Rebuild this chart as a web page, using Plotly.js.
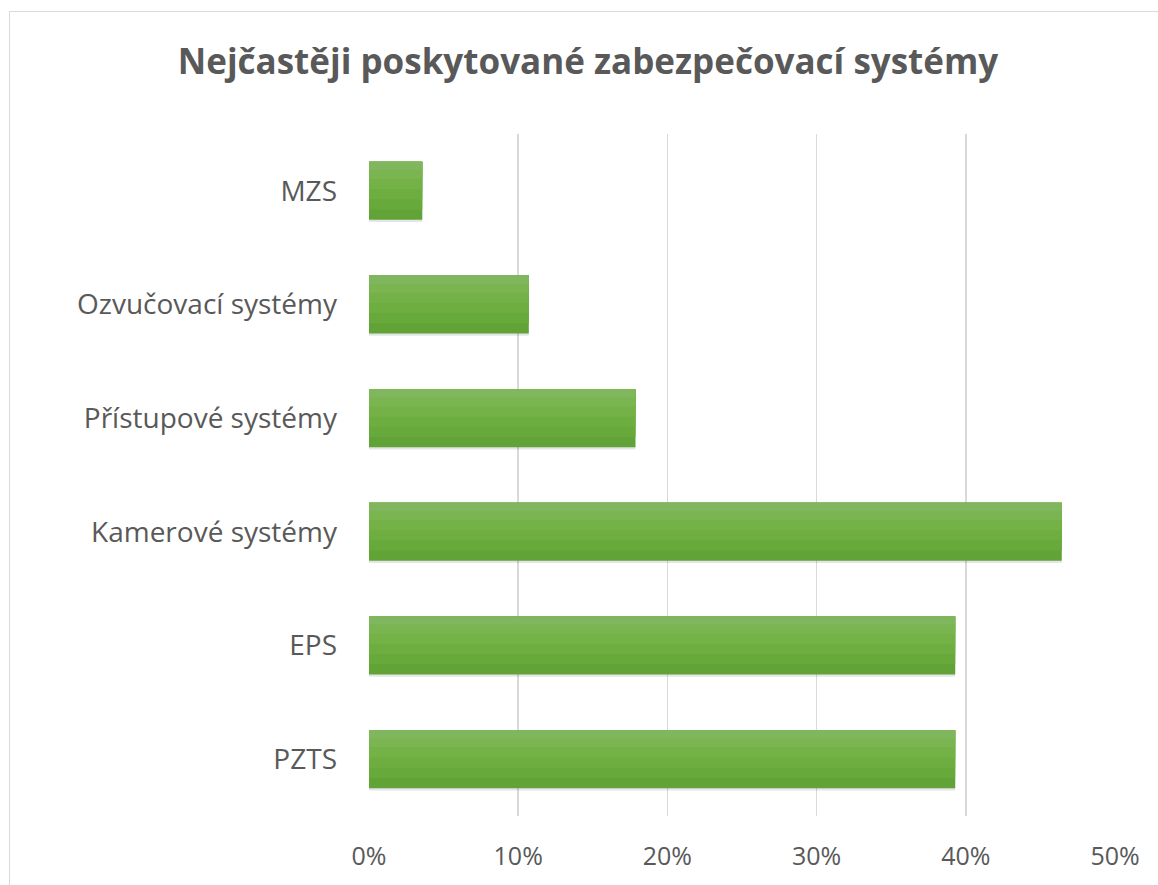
<!DOCTYPE html>
<html>
<head>
<meta charset="utf-8">
<script src="https://cdn.plot.ly/plotly-3.0.1.min.js"></script>
<style>
  html, body { margin: 0; padding: 0; background: #ffffff; }
  #chart { width: 1158px; height: 885px; }
  #frame { position: absolute; left: 9px; top: 11px; width: 1160px; height: 880px;
           border: 1px solid #d9d9d9; pointer-events: none; box-sizing: border-box; }
</style>
</head>
<body>
<div id="chart"></div>
<div id="frame"></div>
<script>
const categories = ["PZTS", "EPS", "Kamerové systémy", "Přístupové systémy", "Ozvučovací systémy", "MZS"];
const shares = [0.3929, 0.3929, 0.4643, 0.1786, 0.1071, 0.0357];
const tickValues = [0, 0.1, 0.2, 0.3, 0.4, 0.5];
const tickLabels = ["0%", "10%", "20%", "30%", "40%", "50%"];

const fontFamily = "'Open Sans', 'Noto Sans', sans-serif";

// layered fills to imitate the vertical gradient of the original bars
const layers = [
  { color: "rgba(0,0,0,0.10)", width: 0.53, offset: -0.275 },
  { color: "#62a337", width: 0.51, offset: -0.255 },
  { color: "#68a93c", width: 0.42, offset: -0.165 },
  { color: "#6eae41", width: 0.33, offset: -0.075 },
  { color: "#74b247", width: 0.24, offset: 0.015 },
  { color: "#7ab552", width: 0.15, offset: 0.105 },
  { color: "#80b75e", width: 0.07, offset: 0.185 }
];

const data = layers.map(l => ({
  type: "bar",
  orientation: "h",
  y: categories,
  x: shares,
  width: l.width,
  offset: l.offset,
  marker: { color: l.color, line: { width: 0 } },
  hoverinfo: "x+y"
}));

const layout = {
  width: 1158,
  height: 885,
  paper_bgcolor: "#ffffff",
  plot_bgcolor: "#ffffff",
  margin: { l: 369, r: 43, t: 134, b: 69 },
  barmode: "overlay",
  showlegend: false,
  title: {
    text: "<b>Nejčastěji poskytované zabezpečovací systémy</b>",
    font: { family: fontFamily, size: 35, color: "#595959" },
    x: 588 / 1158, xref: "container", xanchor: "center",
    y: 1 - 62 / 885, yref: "container", yanchor: "middle"
  },
  xaxis: {
    range: [0, 0.5],
    tickvals: tickValues,
    ticktext: tickLabels,
    showgrid: true,
    gridcolor: "#d9d9d9",
    gridwidth: 1.5,
    zeroline: false,
    showline: false,
    ticks: "",
    ticklabelstandoff: 23,
    tickfont: { family: fontFamily, size: 25, color: "#595959" },
    fixedrange: true
  },
  yaxis: {
    type: "category",
    showgrid: false,
    zeroline: false,
    showline: false,
    ticks: "",
    ticklabelstandoff: 31,
    tickfont: { family: fontFamily, size: 28, color: "#595959" },
    fixedrange: true
  }
};

Plotly.newPlot("chart", data, layout, { displayModeBar: false, staticPlot: true });
</script>
</body>
</html>
